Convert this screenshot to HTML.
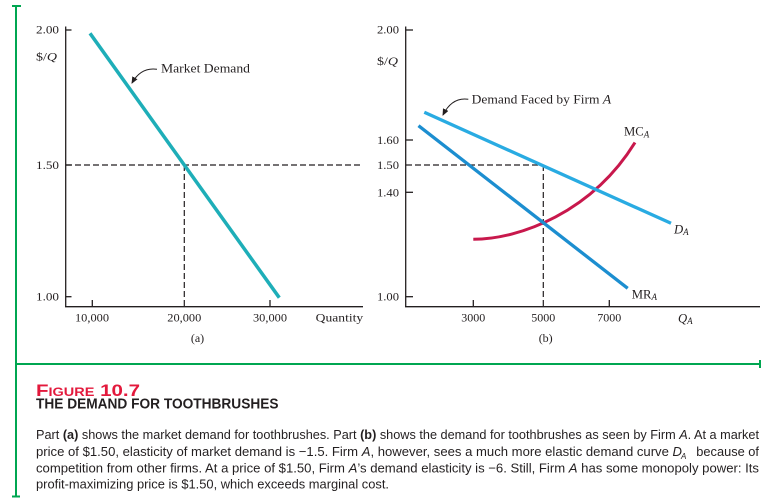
<!DOCTYPE html>
<html>
<head>
<meta charset="utf-8">
<style>
html,body{margin:0;padding:0;background:#fff;}
svg{display:block;}
.s{font-family:"Liberation Serif",serif;fill:#231f20;}
.p{font-family:"Liberation Sans",sans-serif;fill:#231f20;}
</style>
</head>
<body>
<svg width="773" height="498" viewBox="0 0 773 498" xmlns="http://www.w3.org/2000/svg">
<rect width="773" height="498" fill="#fff"/>
<defs>
<marker id="ah" markerWidth="8" markerHeight="8" refX="6" refY="3" orient="auto" markerUnits="userSpaceOnUse">
<path d="M0,0 L7,3 L0,6 Z" fill="#231f20"/>
</marker>
</defs>

<!-- green frame -->
<g stroke="#00a651" stroke-width="2" fill="none">
<line x1="16" y1="6" x2="16" y2="497"/>
<line x1="12" y1="6" x2="21" y2="6"/>
<line x1="12" y1="496.5" x2="20" y2="496.5"/>
<line x1="16" y1="364" x2="760" y2="364"/>
<line x1="760" y1="360" x2="760" y2="368"/>
</g>

<!-- LEFT PANEL -->
<g stroke="#231f20" stroke-width="1.3" fill="none">
<line x1="65.7" y1="26.5" x2="65.7" y2="307"/>
<line x1="65" y1="306.7" x2="363" y2="306.7"/>
<line x1="65.7" y1="30" x2="71.5" y2="30"/>
<line x1="65.7" y1="165" x2="71.5" y2="165"/>
<line x1="65.7" y1="296.7" x2="71.5" y2="296.7"/>
<line x1="92.3" y1="300" x2="92.3" y2="306.7"/>
<line x1="270" y1="300" x2="270" y2="306.7"/>
</g>
<g stroke="#231f20" stroke-width="1.2" stroke-dasharray="6,3" fill="none">
<line x1="66" y1="165" x2="361" y2="165"/>
<line x1="184.3" y1="165" x2="184.3" y2="306"/>
</g>
<line x1="90" y1="33.3" x2="279.3" y2="297.7" stroke="#1eaeb8" stroke-width="3.5" stroke-linecap="butt"/>
<path d="M157,69.3 Q141,67 132,83" stroke="#231f20" stroke-width="1" fill="none" marker-end="url(#ah)"/>

<g class="s" font-size="12">
<text x="59" y="33.5" text-anchor="end" textLength="23" lengthAdjust="spacingAndGlyphs">2.00</text>
<text x="36" y="60.5" textLength="21" lengthAdjust="spacingAndGlyphs">$/<tspan font-style="italic">Q</tspan></text>
<text x="59" y="169" text-anchor="end" textLength="23" lengthAdjust="spacingAndGlyphs">1.50</text>
<text x="59" y="300.5" text-anchor="end" textLength="23" lengthAdjust="spacingAndGlyphs">1.00</text>
<text x="161" y="72.3" font-size="13" textLength="89" lengthAdjust="spacingAndGlyphs">Market Demand</text>
<text x="75" y="321.5" textLength="34" lengthAdjust="spacingAndGlyphs">10,000</text>
<text x="167.3" y="321.5" textLength="34" lengthAdjust="spacingAndGlyphs">20,000</text>
<text x="253" y="321.5" textLength="34" lengthAdjust="spacingAndGlyphs">30,000</text>
<text x="315.7" y="321.5" textLength="47.5" lengthAdjust="spacingAndGlyphs">Quantity</text>
<text x="197.5" y="342" text-anchor="middle">(a)</text>
</g>

<!-- RIGHT PANEL -->
<g stroke="#231f20" stroke-width="1.3" fill="none">
<line x1="405.7" y1="26.5" x2="405.7" y2="307"/>
<line x1="405" y1="306.7" x2="760" y2="306.7"/>
<line x1="405.7" y1="30" x2="413" y2="30"/>
<line x1="405.7" y1="140" x2="413" y2="140"/>
<line x1="405.7" y1="192.3" x2="413" y2="192.3"/>
<line x1="405.7" y1="296.7" x2="413" y2="296.7"/>
<line x1="473.3" y1="300" x2="473.3" y2="306.7"/>
<line x1="609.3" y1="300" x2="609.3" y2="306.7"/>
</g>
<g stroke="#231f20" stroke-width="1.2" stroke-dasharray="6,3" fill="none">
<line x1="406" y1="165" x2="543.3" y2="165"/>
<line x1="543.3" y1="165" x2="543.3" y2="306"/>
</g>
<path d="M473.3,239.3 C520,239.3 592,212 635,142.5" stroke="#c8184c" stroke-width="3" fill="none"/>
<line x1="424.3" y1="112.3" x2="671" y2="223.3" stroke="#29abe2" stroke-width="3.3"/>
<line x1="418.5" y1="125.7" x2="627.7" y2="288.3" stroke="#1c8ed0" stroke-width="3.3"/>
<path d="M468.3,99.3 Q452,97 443,115" stroke="#231f20" stroke-width="1" fill="none" marker-end="url(#ah)"/>

<g class="s" font-size="12">
<text x="399" y="33.5" text-anchor="end" textLength="22" lengthAdjust="spacingAndGlyphs">2.00</text>
<text x="377" y="65" textLength="21" lengthAdjust="spacingAndGlyphs">$/<tspan font-style="italic">Q</tspan></text>
<text x="399" y="144" text-anchor="end" textLength="22" lengthAdjust="spacingAndGlyphs">1.60</text>
<text x="399" y="169" text-anchor="end" textLength="22" lengthAdjust="spacingAndGlyphs">1.50</text>
<text x="399" y="196.3" text-anchor="end" textLength="22" lengthAdjust="spacingAndGlyphs">1.40</text>
<text x="399" y="300.5" text-anchor="end" textLength="22" lengthAdjust="spacingAndGlyphs">1.00</text>
<text x="471.7" y="103.3" font-size="13" textLength="139.5" lengthAdjust="spacingAndGlyphs">Demand Faced by Firm <tspan font-style="italic">A</tspan></text>
<text x="624" y="135.7" font-size="12.7">MC<tspan font-style="italic" font-size="9" dy="1.6">A</tspan></text>
<text x="674" y="233.5" font-size="12.7" font-style="italic">D<tspan font-size="9" dy="1.6">A</tspan></text>
<text x="631.7" y="298.5" font-size="12.7">MR<tspan font-style="italic" font-size="9" dy="1.6">A</tspan></text>
<text x="473.3" y="321.5" text-anchor="middle">3000</text>
<text x="543.3" y="321.5" text-anchor="middle">5000</text>
<text x="609.3" y="321.5" text-anchor="middle">7000</text>
<text x="678" y="322.5" font-size="12.7" font-style="italic">Q<tspan font-size="9" dy="1.6">A</tspan></text>
<text x="545.7" y="342" text-anchor="middle">(b)</text>
</g>

<!-- CAPTION -->
<text x="36" y="396" style="fill:#e3193c;font-family:'Liberation Sans',sans-serif;font-weight:bold" font-size="17" textLength="104" lengthAdjust="spacingAndGlyphs">F<tspan font-size="12">IGURE</tspan> 10.7</text>
<text class="p" x="36" y="408.5" font-size="14.5" font-weight="bold" textLength="242.5" lengthAdjust="spacingAndGlyphs">THE DEMAND FOR TOOTHBRUSHES</text>

<g class="p" font-size="13">
<text x="36" y="439" textLength="723" lengthAdjust="spacingAndGlyphs">Part <tspan font-weight="bold">(a)</tspan> shows the market demand for toothbrushes. Part <tspan font-weight="bold">(b)</tspan> shows the demand for toothbrushes as seen by Firm <tspan font-style="italic">A</tspan>. At a market</text>
<text x="36" y="456" textLength="646" lengthAdjust="spacingAndGlyphs">price of $1.50, elasticity of market demand is −1.5. Firm <tspan font-style="italic">A</tspan>, however, sees a much more elastic demand curve <tspan font-style="italic">D</tspan></text>
<text x="681" y="459" font-size="8" font-style="italic">A</text>
<text x="696.3" y="456" textLength="62.7" lengthAdjust="spacingAndGlyphs">because of</text>
<text x="36" y="472.3" textLength="723" lengthAdjust="spacingAndGlyphs">competition from other firms. At a price of $1.50, Firm <tspan font-style="italic">A</tspan>’s demand elasticity is −6. Still, Firm <tspan font-style="italic">A</tspan> has some monopoly power: Its</text>
<text x="36" y="488.5" textLength="353" lengthAdjust="spacingAndGlyphs">profit-maximizing price is $1.50, which exceeds marginal cost.</text>
</g>
</svg>
</body>
</html>
